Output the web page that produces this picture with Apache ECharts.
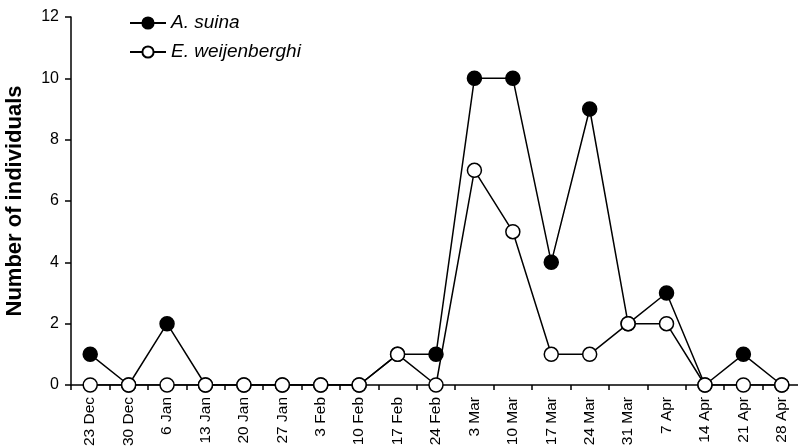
<!DOCTYPE html>
<html><head><meta charset="utf-8">
<script src="https://cdn.jsdelivr.net/npm/echarts@6/dist/echarts.min.js"></script>
<style>html,body{margin:0;padding:0;background:#fff}#c{width:798px;height:448px}</style>
</head><body><div id="c"></div>
<script>
const categories = ["23 Dec","30 Dec","6 Jan","13 Jan","20 Jan","27 Jan","3 Feb","10 Feb","17 Feb","24 Feb","3 Mar","10 Mar","17 Mar","24 Mar","31 Mar","7 Apr","14 Apr","21 Apr","28 Apr"];
const aSuina = [1,0,2,0,0,0,0,0,1,1,10,10,4,9,2,3,0,1,0];
const eWeijenberghi = [0,0,0,0,0,0,0,0,1,0,7,5,1,1,2,2,0,0,0];
const yTicks = [0,2,4,6,8,10,12];

const chart = echarts.init(document.getElementById('c'), null, {renderer:'canvas'});
const font = 'Liberation Sans, Arial, sans-serif';
chart.setOption({
  animation:false,
  backgroundColor:'#fff',
  grid:{left:71, top:17, bottom:63, width:730, containLabel:false, outerBoundsMode:'none'},
  legend:{
    orient:'vertical', left:129, top:13, padding:0, itemGap:9, itemWidth:36, itemHeight:14,
    textStyle:{fontFamily:font, fontSize:19, lineHeight:20, fontStyle:'italic', color:'#000'},
    data:['A. suina','E. weijenberghi']
  },
  xAxis:{
    type:'category', data:categories, boundaryGap:true,
    axisLine:{lineStyle:{color:'#000', width:1.5}},
    axisTick:{show:true, alignWithLabel:false, length:5, lineStyle:{color:'#000', width:1.5}},
    axisLabel:{rotate:90, interval:0, fontFamily:font, fontSize:15.5, color:'#000', margin:12},
    splitLine:{show:false}
  },
  yAxis:{
    type:'value', min:0, max:12, interval:2,
    name:'Number of individuals', nameLocation:'middle', nameGap:45,
    nameTextStyle:{fontFamily:font, fontSize:22, fontWeight:'bold', color:'#000'},
    axisLine:{show:true, lineStyle:{color:'#000', width:1.5}},
    axisTick:{show:true, length:6, lineStyle:{color:'#000', width:1.5}},
    axisLabel:{fontFamily:font, fontSize:16, color:'#000', margin:12,
      formatter:v=>yTicks.includes(v)?String(v):''},
    splitLine:{show:false}
  },
  series:[
    {name:'A. suina', type:'line', data:aSuina, symbol:'circle', symbolSize:14,
     lineStyle:{color:'#000', width:1.5},
     itemStyle:{color:'#000', borderColor:'#000', borderWidth:1.5}},
    {name:'E. weijenberghi', type:'line', data:eWeijenberghi, symbol:'circle', symbolSize:14,
     lineStyle:{color:'#000', width:1.5},
     itemStyle:{color:'#fff', borderColor:'#000', borderWidth:1.5}}
  ]
});
</script></body></html>
